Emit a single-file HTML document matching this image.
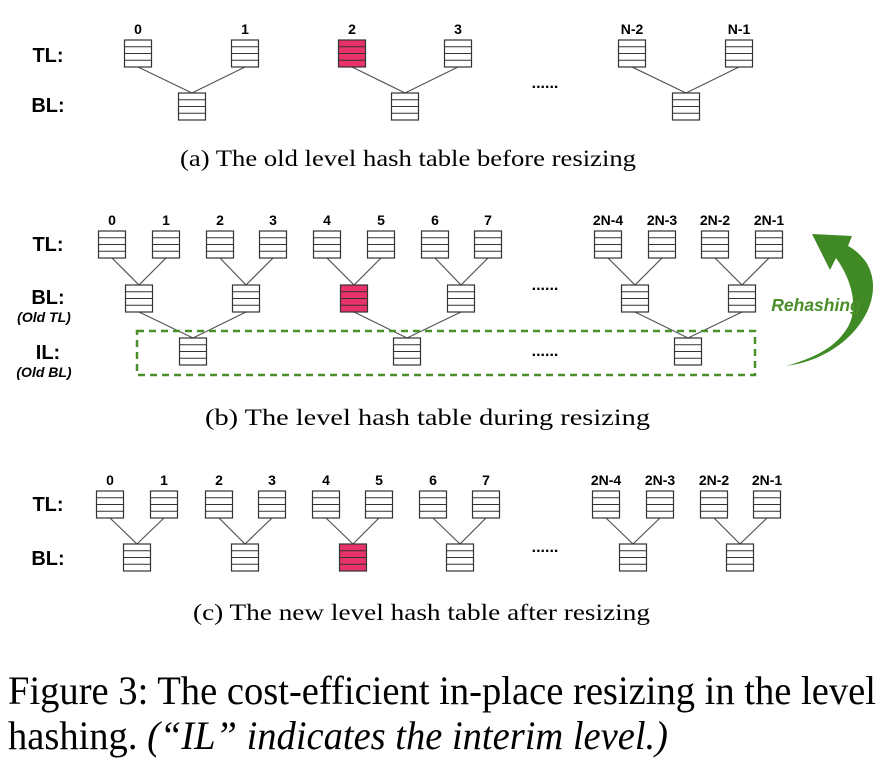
<!DOCTYPE html>
<html><head><meta charset="utf-8"><style>
html,body{margin:0;padding:0;background:#fff;}
svg{display:block;}
.n{font-family:"Liberation Sans",Arial,sans-serif;font-weight:bold;font-size:14px;text-anchor:middle;fill:#000;}
.l{font-family:"Liberation Sans",Arial,sans-serif;font-weight:bold;font-size:20px;text-anchor:middle;fill:#000;}
.s{font-family:"Liberation Sans",Arial,sans-serif;font-weight:bold;font-style:italic;font-size:14px;text-anchor:middle;fill:#000;}
.c{font-family:"Liberation Serif","Times New Roman",serif;font-size:23px;fill:#000;}
.f{font-family:"Liberation Serif","Times New Roman",serif;font-size:40px;fill:#000;}
.d{font-family:"Liberation Sans",Arial,sans-serif;font-weight:bold;font-size:16px;text-anchor:middle;fill:#000;}
</style></head><body>
<svg id="s" width="886" height="780" viewBox="0 0 886 780" xmlns="http://www.w3.org/2000/svg">
<g id="g"></g>
<text class="l" x="48" y="62">TL:</text>
<text class="l" x="48" y="112">BL:</text>
<text class="n" x="138" y="34">0</text><text class="n" x="245" y="34">1</text><text class="n" x="352" y="34">2</text><text class="n" x="458" y="34">3</text><text class="n" x="632" y="34">N-2</text><text class="n" x="739" y="34">N-1</text>
<text class="d" x="545" y="88">......</text>
<text class="c" x="180" y="166" textLength="456" lengthAdjust="spacingAndGlyphs">(a) The old level hash table before resizing</text>
<text class="l" x="48" y="251">TL:</text>
<text class="l" x="48" y="304">BL:</text>
<text class="s" x="44" y="322">(Old TL)</text>
<text class="l" x="48" y="359">IL:</text>
<text class="s" x="44" y="377">(Old BL)</text>
<text class="n" x="112" y="225">0</text><text class="n" x="166" y="225">1</text><text class="n" x="220" y="225">2</text><text class="n" x="273" y="225">3</text><text class="n" x="327" y="225">4</text><text class="n" x="381" y="225">5</text><text class="n" x="435" y="225">6</text><text class="n" x="488" y="225">7</text><text class="n" x="608" y="225">2N-4</text><text class="n" x="662" y="225">2N-3</text><text class="n" x="715" y="225">2N-2</text><text class="n" x="769" y="225">2N-1</text>
<text class="d" x="545" y="290">......</text>
<text class="d" x="545" y="356">......</text>
<rect x="137" y="331" width="618" height="44" fill="none" stroke="#4a8f2a" stroke-width="2.5" stroke-dasharray="7,5"/>
<path d="M786,366 C850,358 890,300 866,262 C860,254 854,249 848,246 L852,236 L812,234 L830,270 L836,258 C852,280 860,310 846,330 C834,348 814,358 786,366 Z" fill="#3f8a24"/>
<text x="816" y="311" style="font-family:'Liberation Sans',Arial,sans-serif;font-weight:bold;font-style:italic;font-size:17.5px;fill:#4a8f2a;text-anchor:middle">Rehashing</text>
<text class="c" x="205" y="425" textLength="445" lengthAdjust="spacingAndGlyphs">(b) The level hash table during resizing</text>
<text class="l" x="48" y="511">TL:</text>
<text class="l" x="48" y="565">BL:</text>
<text class="n" x="110" y="485">0</text><text class="n" x="164" y="485">1</text><text class="n" x="219" y="485">2</text><text class="n" x="272" y="485">3</text><text class="n" x="326" y="485">4</text><text class="n" x="379" y="485">5</text><text class="n" x="433" y="485">6</text><text class="n" x="486" y="485">7</text><text class="n" x="606" y="485">2N-4</text><text class="n" x="660" y="485">2N-3</text><text class="n" x="714" y="485">2N-2</text><text class="n" x="767" y="485">2N-1</text>
<text class="d" x="545" y="552">......</text>
<text class="c" x="193" y="620" textLength="457" lengthAdjust="spacingAndGlyphs">(c) The new level hash table after resizing</text>
<text class="f" x="8" y="704" textLength="868" lengthAdjust="spacingAndGlyphs">Figure 3:  The cost-efficient in-place resizing in the level</text>
<text class="f" x="8" y="749" textLength="660" lengthAdjust="spacingAndGlyphs">hashing. <tspan font-style="italic">(“IL” indicates the interim level.)</tspan></text>
</svg>
<script>
var g=document.getElementById('g'),NS="http://www.w3.org/2000/svg";
function el(t,a){var e=document.createElementNS(NS,t);for(var k in a)e.setAttribute(k,a[k]);g.appendChild(e);return e;}
function box(cx,top,red){var x=cx-13.5;el('rect',{x:x,y:top,width:27,height:27,fill:red?'#e8336a':'#fff',stroke:'#333','stroke-width':1.2});
for(var i=1;i<4;i++)el('line',{x1:x,x2:x+27,y1:top+i*6.75,y2:top+i*6.75,stroke:'#333','stroke-width':1});}
function ln(x1,y1,x2,y2){el('line',{x1:x1,y1:y1,x2:x2,y2:y2,stroke:'#555','stroke-width':1.2});}
function tree(tc,tt,bc,bt){for(var i=0;i<bc.length;i++){ln(tc[2*i],tt+27,bc[i],bt);ln(tc[2*i+1],tt+27,bc[i],bt);}}
var aT=[138,245,352,458,632,739],aB=[192,405,686];
tree(aT,40,aB,93);aT.forEach(function(c,i){box(c,40,i==2);});aB.forEach(function(c){box(c,93);});
var bT=[112,166,220,273,327,381,435,488,608,662,715,769],bB=[139,246,354,461,635,742],bI=[193,407,688];
tree(bT,231,bB,285);
ln(139,312,193,338);ln(246,312,193,338);ln(354,312,407,338);ln(461,312,407,338);ln(635,312,688,338);ln(742,312,688,338);
bT.forEach(function(c){box(c,231);});bB.forEach(function(c,i){box(c,285,i==2);});bI.forEach(function(c){box(c,338);});
var cT=[110,164,219,272,326,379,433,486,606,660,714,767],cB=[137,245,353,460,633,740];
tree(cT,491,cB,544);cT.forEach(function(c){box(c,491);});cB.forEach(function(c,i){box(c,544,i==2);});
</script>
</body></html>
